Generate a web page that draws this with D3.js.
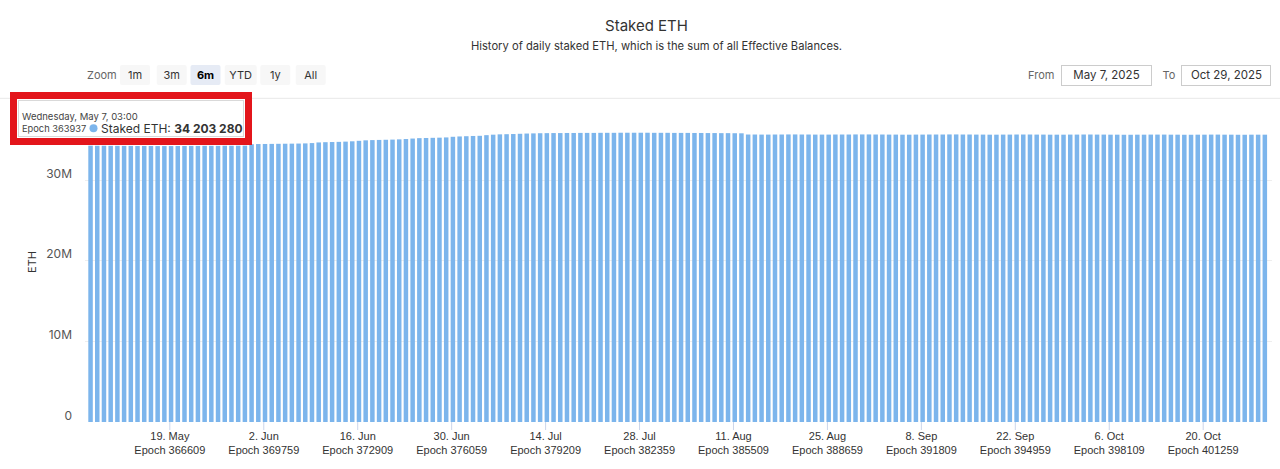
<!DOCTYPE html>
<html><head><meta charset="utf-8">
<script src="https://cdn.jsdelivr.net/npm/d3@7"></script>
<style>
html,body{margin:0;padding:0;background:#fff;}
svg{display:block;font-family:Inter,"Noto Sans",Arial,sans-serif;}
</style></head>
<body>
<svg id="chart" width="1280" height="469"></svg>
<script>
// ---- data ----
const startDate = "2025-05-07";
const endDate = "2025-10-29";
// daily staked ETH, millions
const stakedM = [
 34.20,34.19,34.19,34.18,34.18,34.17,34.17,34.16,34.16,34.16,34.15,34.15,34.15,34.16,34.16,34.17,34.17,34.18,34.18,34.18,34.19,34.19,34.20,34.20,
 34.38,34.40,34.41,34.42,34.43,34.44,34.45,34.46,34.48,34.52,
 34.60,34.63,34.65,34.67,34.70,34.74,34.80,
 34.86,34.89,34.91,34.93,34.95,34.98,35.02,35.08,
 35.13,35.15,35.17,35.19,35.22,
 35.30,35.34,35.37,35.40,35.42,
 35.50,35.56,35.60,35.62,
 35.64,35.67,35.70,35.72,
 35.74,35.75,35.76,35.76,35.77,35.77,35.78,35.78,35.78,35.79,35.79,35.79,35.80,35.80,35.80,35.80,35.80,35.79,35.79,35.79,35.78,35.78,35.78,35.77,35.77,35.76,35.76,35.75,35.75,35.74,35.73,
 35.58,35.58,35.57,35.57,35.58,35.58,35.59,35.59,35.58,35.58,35.57,35.57,35.57,35.58,35.58,35.58,35.59,35.59,35.59,35.58,35.58,35.57,35.57,35.56,35.56,35.57,35.57,35.58,35.58,35.58,35.59,35.59,35.58,35.58,35.57,35.57,35.56,35.56,35.57,35.57,35.58,35.58,35.58,35.57,35.57,35.56,35.56,35.56,35.57,35.57,35.58,35.58,35.57,35.57,35.56,35.56,35.55,35.55,35.56,35.56,35.57,35.57,35.57,35.56,35.56,35.55,35.55,35.56,35.56,35.57,35.57,35.56,35.56,35.55,35.55,35.56,35.56,35.56
];
const xTickDates = ["2025-05-19","2025-06-02","2025-06-16","2025-06-30","2025-07-14","2025-07-28","2025-08-11","2025-08-25","2025-09-08","2025-09-22","2025-10-06","2025-10-20"];
const xTickLabels = ["19. May","2. Jun","16. Jun","30. Jun","14. Jul","28. Jul","11. Aug","25. Aug","8. Sep","22. Sep","6. Oct","20. Oct"];
const xTickEpochs = ["Epoch 366609","Epoch 369759","Epoch 372909","Epoch 376059","Epoch 379209","Epoch 382359","Epoch 385509","Epoch 388659","Epoch 391809","Epoch 394959","Epoch 398109","Epoch 401259"];
const yTicks = [0,10,20,30];
const yTickLabels = ["0","10M","20M","30M"];
const yMax = 40;
const zoomButtons = ["1m","3m","6m","YTD","1y","All"];
const selectedZoom = "6m";
const fromLabel = "May 7, 2025";
const toLabel = "Oct 29, 2025";
const tooltipDate = "Wednesday, May 7, 03:00";
const tooltipEpoch = "Epoch 363937";
const tooltipValue = "34 203 280";

// ---- setup ----
const svg = d3.select("#chart");
const parse = d3.utcParse("%Y-%m-%d");
const t0 = parse(startDate);
const days = stakedM.map((v,i)=>({date:d3.utcDay.offset(t0,i), v}));

const x = d3.scaleUtc()
  .domain([t0, d3.utcDay.offset(parse(endDate),1)])
  .range([88.8, 1269.8]);
const y = d3.scaleLinear().domain([0,yMax]).range([422, 98.8]);
const dayW = x(d3.utcDay.offset(t0,1)) - x(t0);

// title
svg.append("text").attr("x",646.5).attr("y",31).attr("text-anchor","middle")
  .attr("font-size",15).attr("fill","#333").text("Staked ETH");
svg.append("text").attr("x",656.5).attr("y",50).attr("text-anchor","middle")
  .attr("font-size",11.2).attr("fill","#333")
  .text("History of daily staked ETH, which is the sum of all Effective Balances.");

// zoom buttons
svg.append("text").attr("x",87).attr("y",79).attr("font-size",11).attr("fill","#666").text("Zoom");
const btnCenters = [135,171.7,205.5,240.7,275.3,310.7];
const bg = svg.append("g").selectAll("g").data(zoomButtons).join("g")
  .attr("transform",(d,i)=>`translate(${btnCenters[i]},0)`);
bg.append("rect").attr("x",d=>d==="YTD"?-16:-15).attr("y",65).attr("width",d=>d==="YTD"?32:30).attr("height",20)
  .attr("rx",2).attr("fill",d=>d===selectedZoom?"#e6ebf5":"#f7f7f7");
bg.append("text").attr("text-anchor","middle").attr("y",79).attr("font-size",11)
  .attr("font-weight",d=>d===selectedZoom?"bold":"normal")
  .attr("fill",d=>d===selectedZoom?"#000":"#333").text(d=>d);

// from/to
svg.append("text").attr("x",1028).attr("y",79).attr("font-size",11).attr("fill","#666").text("From");
svg.append("rect").attr("x",1061.5).attr("y",65.5).attr("width",90).attr("height",20).attr("fill","#fff").attr("stroke","#ccc");
svg.append("text").attr("x",1106.5).attr("y",79).attr("text-anchor","middle").attr("font-size",11.5).attr("fill","#333").text(fromLabel);
svg.append("text").attr("x",1162.5).attr("y",79).attr("font-size",11).attr("fill","#666").text("To");
svg.append("rect").attr("x",1181.5).attr("y",65.5).attr("width",89).attr("height",20).attr("fill","#fff").attr("stroke","#ccc");
svg.append("text").attr("x",1226.5).attr("y",79).attr("text-anchor","middle").attr("font-size",11.5).attr("fill","#333").text(toLabel);

// gridlines
svg.append("line").attr("x1",0).attr("x2",1280).attr("y1",y(yMax)-0.5).attr("y2",y(yMax)-0.5).attr("stroke","#e8e8e8");
svg.append("g").selectAll("line").data(yTicks.slice(1)).join("line")
  .attr("x1",85).attr("x2",1272).attr("y1",d=>Math.round(y(d))+0.5).attr("y2",d=>Math.round(y(d))+0.5)
  .attr("stroke","#eeeeee");

// y axis labels
svg.append("g").selectAll("text").data(yTicks).join("text")
  .attr("x",72).attr("y",d=>y(d)-6.3).attr("dy","0.35em").attr("text-anchor","end")
  .attr("font-size",12).attr("fill","#555").text((d,i)=>yTickLabels[i]);
svg.append("text").attr("transform","translate(36,262) rotate(-90)").attr("text-anchor","middle")
  .attr("font-size",11).attr("fill","#333").text("ETH");

// bars
svg.append("g").selectAll("rect").data(days).join("rect")
  .attr("x",d=>x(d.date)-0.5).attr("width",dayW*0.67)
  .attr("y",d=>y(d.v)).attr("height",d=>y(0)-y(d.v))
  .attr("fill","#7cb5ec");

// x axis
const xAxis = d3.axisBottom(x).tickValues(xTickDates.map(parse)).tickSize(8).tickFormat("");
const gx = svg.append("g").attr("transform",`translate(0,${y(0)})`).call(xAxis);
gx.select(".domain").remove();
gx.selectAll(".tick line").attr("stroke","#ccd6eb");
gx.selectAll(".tick").each(function(d,i){
  const t = d3.select(this).append("text").attr("fill","#333").attr("font-size",11).attr("text-anchor","middle");
  t.append("tspan").attr("x",0).attr("y",18).text(xTickLabels[i]);
  t.append("tspan").attr("x",0).attr("y",32).text(xTickEpochs[i]);
});

// tooltip + red highlight
svg.append("rect").attr("x",13.5).attr("y",95.5).attr("width",235).attr("height",46)
  .attr("fill","#fff").attr("stroke","#e3151b").attr("stroke-width",7);
svg.append("rect").attr("x",18.5).attr("y",100.5).attr("width",225).attr("height",36)
  .attr("fill","#fff").attr("stroke","#d9d9d9");
svg.append("text").attr("x",22).attr("y",120).attr("font-size",9.5).attr("fill","#444").text(tooltipDate);
svg.append("text").attr("x",22).attr("y",132).attr("font-size",9.3).attr("fill","#444").text(tooltipEpoch);
svg.append("circle").attr("cx",93.5).attr("cy",128.3).attr("r",4).attr("fill","#7cb5ec");
const tt = svg.append("text").attr("x",101).attr("y",132.5).attr("font-size",12).attr("fill","#333");
tt.append("tspan").text("Staked ETH: ");
tt.append("tspan").attr("font-weight","bold").text(tooltipValue);
</script>
</body></html>
